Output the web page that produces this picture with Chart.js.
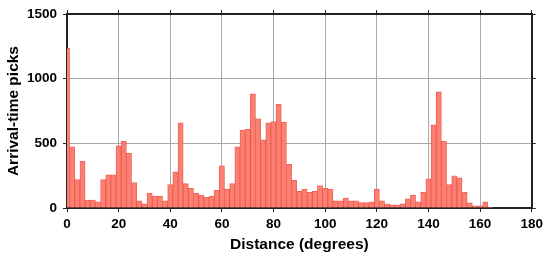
<!DOCTYPE html>
<html>
<head>
<meta charset="utf-8">
<script src="https://cdn.jsdelivr.net/npm/chart.js@4/dist/chart.umd.min.js"></script>
<style>
  html, body { margin: 0; padding: 0; background: #fff; }
  #wrap { width: 547px; height: 258px; }
</style>
</head>
<body>
<div id="wrap"><canvas id="hist"></canvas></div>
<script>
// --- Histogram data (2 degree bins, centred on even degrees) ---
const binCenters = [
    0, 2, 4, 6, 8, 10, 12, 14, 16, 18, 20, 22, 24, 26, 28, 30, 32, 34, 36, 38,
    40, 42, 44, 46, 48, 50, 52, 54, 56, 58, 60, 62, 64, 66, 68, 70, 72, 74, 76, 78,
    80, 82, 84, 86, 88, 90, 92, 94, 96, 98, 100, 102, 104, 106, 108, 110, 112, 114, 116, 118,
    120, 122, 124, 126, 128, 130, 132, 134, 136, 138, 140, 142, 144, 146, 148, 150, 152, 154, 156, 158,
    160, 162, 164
];
const pickCounts = [
    1236, 473, 219, 361, 62, 62, 47, 219, 256, 256, 480, 517, 423, 197, 55, 32, 114, 92, 92, 55,
    182, 279, 659, 189, 152, 114, 100, 85, 92, 137, 326, 147, 189, 473, 602, 609, 883, 689, 527, 659,
    669, 803, 662, 338, 214, 129, 144, 122, 129, 174, 152, 144, 55, 55, 77, 55, 55, 42, 42, 47,
    144, 55, 32, 25, 25, 32, 70, 100, 47, 122, 226, 644, 898, 517, 182, 249, 234, 122, 40, 17,
    17, 47, 5
];
const xTicks = [0, 20, 40, 60, 80, 100, 120, 140, 160, 180];
const yTicks = [0, 500, 1000, 1500];

const tickFont = { family: 'Liberation Sans, Arial, sans-serif', size: 13.5, weight: 'bold' };
const titleFont = { family: 'Liberation Sans, Arial, sans-serif', size: 15.5, weight: 'bold' };
const frame = { display: true, color: '#222', width: 2 };
const plain = v => String(v);

const ctx = document.getElementById('hist');
new Chart(ctx, {
    type: 'bar',
    data: {
        datasets: [{
            data: binCenters.map((c, i) => ({ x: c, y: pickCounts[i] })),
            backgroundColor: 'rgb(250, 128, 114)',
            borderColor: 'rgba(240, 70, 60, 0.85)',
            borderWidth: 1,
            barPercentage: 1,
            categoryPercentage: 1
        }]
    },
    options: {
        responsive: true,
        maintainAspectRatio: false,
        animation: false,
        layout: { padding: { top: 3, right: 8, left: 0, bottom: 0 } },
        plugins: { legend: { display: false }, tooltip: { enabled: false } },
        scales: {
            x: {
                type: 'linear',
                position: 'bottom',
                offset: false,
                min: 0, max: 180,
                afterBuildTicks: s => { s.ticks = xTicks.map(v => ({ value: v })); },
                afterFit: s => { s.height = 50; },
                ticks: { font: tickFont, color: '#000', padding: 4, maxRotation: 0, callback: plain },
                grid: { offset: false, color: '#a8a8a8', lineWidth: 1, tickColor: '#222', tickLength: 4 },
                border: frame,
                title: { display: true, text: 'Distance (degrees)', font: titleFont, color: '#000', padding: { top: 8 } }
            },
            x2: {
                type: 'linear',
                position: 'top',
                offset: false,
                min: 0, max: 180,
                afterBuildTicks: s => { s.ticks = xTicks.map(v => ({ value: v })); },
                afterFit: s => { s.height = 4; },
                ticks: { display: false },
                grid: { offset: false, drawOnChartArea: false, tickColor: '#222', tickLength: 4 },
                border: frame
            },
            y: {
                position: 'left',
                min: 0, max: 1500,
                afterBuildTicks: s => { s.ticks = yTicks.map(v => ({ value: v })); },
                afterFit: s => { s.width = 67; },
                ticks: { font: tickFont, color: '#000', padding: 6, callback: plain },
                grid: { color: '#a8a8a8', lineWidth: 1, tickColor: '#222', tickLength: 4 },
                border: frame,
                title: { display: true, text: 'Arrival-time picks', font: titleFont, color: '#000', padding: { bottom: 2 } }
            },
            y2: {
                position: 'right',
                min: 0, max: 1500,
                afterBuildTicks: s => { s.ticks = yTicks.map(v => ({ value: v })); },
                afterFit: s => { s.width = 4; },
                ticks: { display: false },
                grid: { drawOnChartArea: false, tickColor: '#222', tickLength: 4 },
                border: frame
            }
        }
    }
});
</script>
</body>
</html>
